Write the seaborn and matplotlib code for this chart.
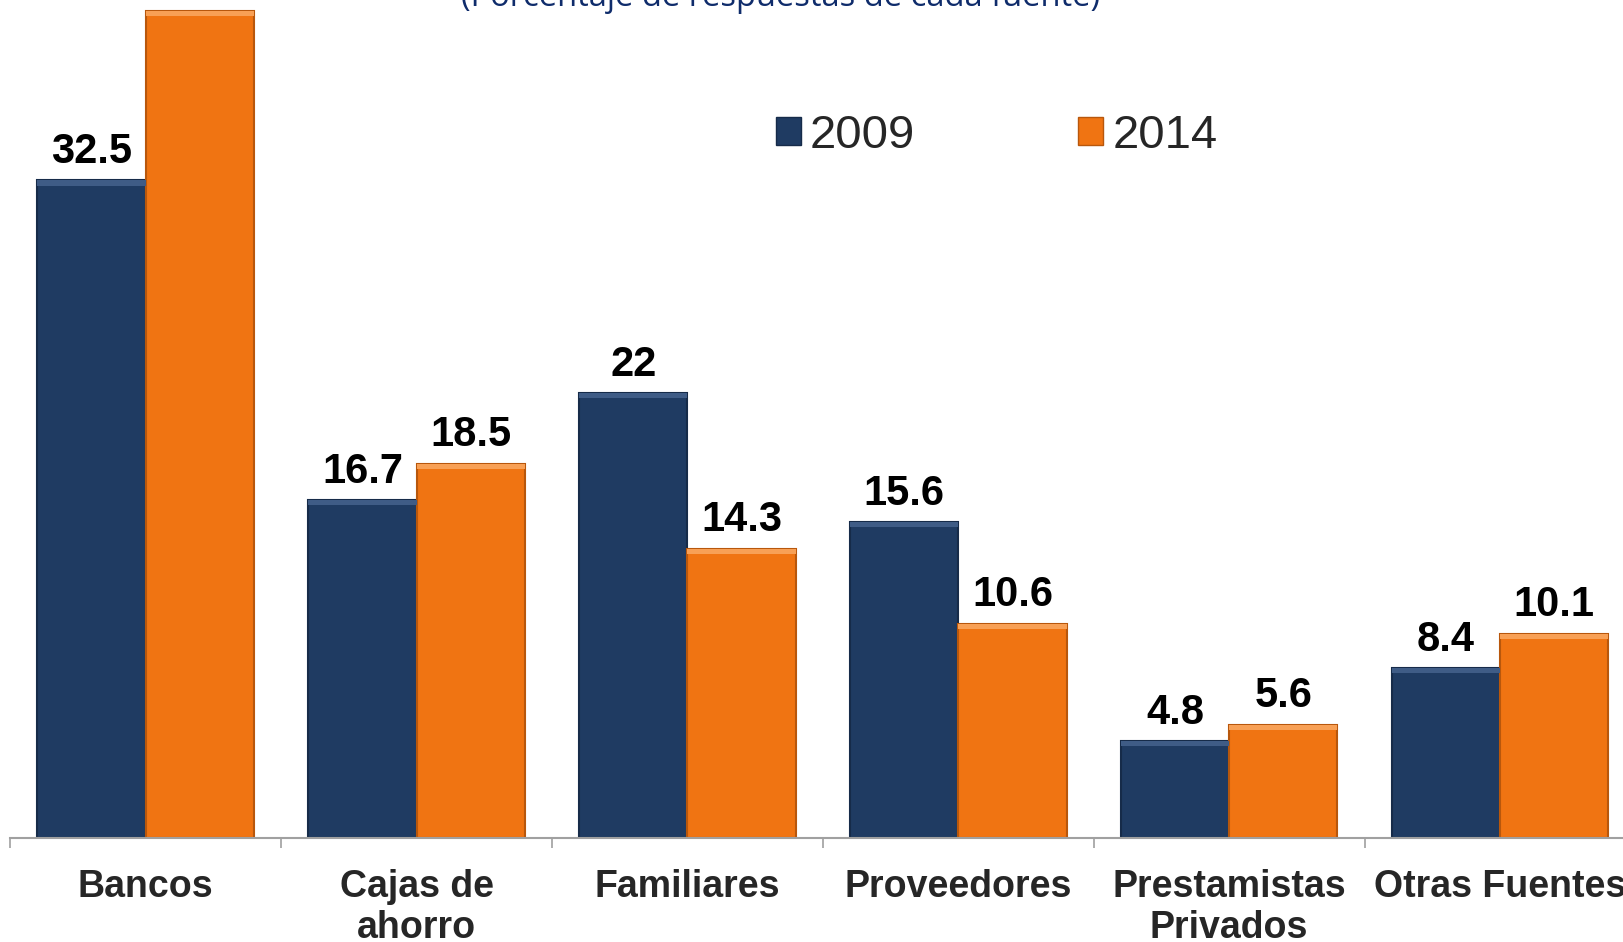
import matplotlib
matplotlib.use("Agg")
import matplotlib.pyplot as plt
import pandas as pd
import seaborn as sns

categories = ["Bancos", "Cajas de\nahorro", "Familiares", "Proveedores",
              "Prestamistas\nPrivados", "Otras Fuentes"]
years = ["2009", "2014"]
values_2009 = [32.5, 16.7, 22.0, 15.6, 4.8, 8.4]
values_2014 = [40.9, 18.5, 14.3, 10.6, 5.6, 10.1]
labels_2009 = ["32.5", "16.7", "22", "15.6", "4.8", "8.4"]
labels_2014 = ["", "18.5", "14.3", "10.6", "5.6", "10.1"]

df = pd.DataFrame({
    "fuente": categories * 2,
    "anio": [years[0]] * 6 + [years[1]] * 6,
    "valor": values_2009 + values_2014,
})

navy = "#1F3B62"
orange = "#F07412"

sns.set_theme(style="white")
plt.rcParams["font.family"] = ["Liberation Sans", "DejaVu Sans"]

fig = plt.figure(figsize=(16.23, 9.42), dpi=100)
ax = fig.add_axes([10.35 / 1623, 104 / 942, 1625 / 1623, 838 / 942])

sns.barplot(data=df, x="fuente", y="valor", hue="anio", order=categories,
            hue_order=years, palette=[navy, orange], width=0.8, saturation=1,
            ax=ax, legend=False)

edge_cols = ["#162B49", "#B8570C"]
top_cols = ["#3F5C86", "#F8A055"]
for cont, ec, tc, labs in zip(ax.containers, edge_cols, top_cols,
                              [labels_2009, labels_2014]):
    for p in cont:
        p.set_edgecolor(ec)
        p.set_linewidth(1.5)
        # light bevel strip along the top of each bar
        ax.add_patch(plt.Rectangle((p.get_x(), p.get_height() - 0.25), p.get_width(),
                                   0.25, facecolor=tc, edgecolor="none", zorder=3))
    ax.bar_label(cont, labels=labs, padding=6, fontsize=30, fontweight="bold",
                 color="black")

ax.set_xlim(-0.5, 5.5)
ax.set_ylim(0, 41.42)
ax.set_xlabel("")
ax.set_ylabel("")
ax.set_yticks([])
for s in ["top", "right", "left"]:
    ax.spines[s].set_visible(False)
ax.spines["bottom"].set_color("#A0A0A0")
ax.spines["bottom"].set_linewidth(1.5)

ax.set_xticks(range(6))
ax.set_xticklabels(categories, fontsize=27, fontweight="bold", linespacing=1.18)
ax.set_xticks([i - 0.5 for i in range(7)], minor=True)
ax.tick_params(axis="x", which="major", length=0, pad=22)
ax.tick_params(axis="x", which="minor", length=7, width=1.2, color="#A0A0A0",
               bottom=True)

handles = [plt.Rectangle((0, 0), 1, 1, facecolor=navy, edgecolor=edge_cols[0]),
           plt.Rectangle((0, 0), 1, 1, facecolor=orange, edgecolor=edge_cols[1])]
fig.legend(handles, years, loc="center left", bbox_to_anchor=(776 / 1623, 1 - 136 / 942),
           ncol=2, frameon=False, fontsize=34, handlelength=0.52, handleheight=0.52,
           handletextpad=0.2, columnspacing=3.45, borderpad=0, borderaxespad=0)

fig.text(781 / 1623, 1 - 6 / 942, "(Porcentaje de respuestas de cada fuente)",
         ha="center", va="baseline", fontsize=23.5, color="#0F2C6B",
         family=["Open Sans", "DejaVu Sans"])

fig.savefig("out.png", dpi=100)
